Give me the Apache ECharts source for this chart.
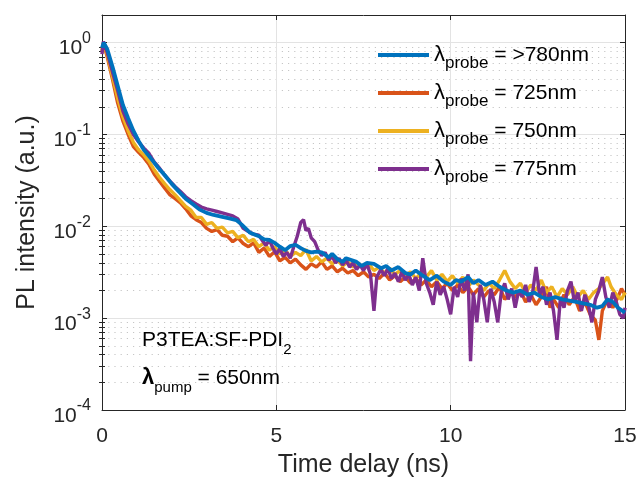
<!DOCTYPE html>
<html>
<head>
<meta charset="utf-8">
<script src="https://cdn.jsdelivr.net/npm/echarts@6/dist/echarts.min.js"></script>
<style>
html,body{margin:0;padding:0;background:#fff;}
#chart{width:642px;height:482px;}
</style>
</head>
<body>
<div id="chart"></div>
<script>
// ---- data ----
const seriesLabels = ['>780nm', '725nm', '750nm', '775nm'];
const seriesColors = ['#0072BD', '#D95319', '#EDB120', '#7E2F8E'];

const xTicks = [0, 5, 10, 15];
const yTicks = [1e-4, 1e-3, 1e-2, 1e-1, 1];
const yMinorTicks = [2e-4,3e-4,4e-4,5e-4,6e-4,7e-4,8e-4,9e-4,
  2e-3,3e-3,4e-3,5e-3,6e-3,7e-3,8e-3,9e-3,
  2e-2,3e-2,4e-2,5e-2,6e-2,7e-2,8e-2,9e-2,
  0.2,0.3,0.4,0.5,0.6,0.7,0.8,0.9];

// >780nm (blue)
const t780 = [0,0.05,0.15,0.3,0.45,0.6,0.75,0.9,1.05,1.2,1.4,1.6,1.8,2.0,2.2,2.4,2.6,2.8,3.0,3.2,3.45,3.65,3.85,4.0,4.25,4.5,4.65,4.8,4.95,5.1,5.25,5.4,5.55,5.7,5.85,6.0,6.15,6.3,6.5,6.6,6.75,6.9,7.0,7.15,7.3,7.45,7.6,7.8,8.0,8.15,8.3,8.5,8.7,8.85,9.0,9.2,9.4,9.6,9.8,10.0,10.15,10.3,10.5,10.65,10.8,11.0,11.2,11.4,11.6,11.8,12.0,12.2,12.4,12.6,12.8,13.0,13.2,13.4,13.6,13.8,14.0,14.2,14.35,14.5,14.65,14.8,15.0];
const i780 = [0.88,1.0,0.85,0.55,0.34,0.21,0.15,0.11,0.085,0.068,0.055,0.044,0.036,0.029,0.024,0.020,0.0175,0.0152,0.0140,0.0133,0.0127,0.0122,0.0117,0.0105,0.0085,0.0078,0.0072,0.0071,0.0066,0.0060,0.0055,0.0061,0.0063,0.0058,0.0054,0.0052,0.0053,0.0052,0.0046,0.0050,0.0044,0.0041,0.0045,0.0043,0.0041,0.0037,0.0040,0.0039,0.0035,0.0037,0.0033,0.0036,0.0031,0.0030,0.0033,0.0029,0.0026,0.0029,0.0025,0.0023,0.0026,0.0025,0.0028,0.0024,0.0026,0.0023,0.0025,0.0022,0.0020,0.0019,0.0020,0.0018,0.0019,0.0017,0.0016,0.0017,0.0016,0.00155,0.0015,0.00145,0.0014,0.0013,0.00135,0.0016,0.0015,0.0013,0.00115];

// 725nm (orange)
const t725 = [0,0.04,0.15,0.3,0.45,0.6,0.75,0.9,1.05,1.2,1.35,1.5,1.65,1.8,1.95,2.1,2.25,2.4,2.55,2.7,2.85,3.0,3.15,3.3,3.45,3.6,3.75,3.9,4.05,4.2,4.35,4.5,4.65,4.8,4.95,5.1,5.25,5.4,5.55,5.7,5.85,6.0,6.15,6.3,6.45,6.6,6.75,6.9,7.05,7.2,7.35,7.5,7.65,7.8,7.95,8.1,8.25,8.4,8.55,8.7,8.85,9.0,9.15,9.3,9.45,9.6,9.75,9.9,10.05,10.2,10.35,10.5,10.65,10.8,10.95,11.1,11.25,11.4,11.55,11.7,11.85,12.0,12.15,12.3,12.45,12.6,12.75,12.85,12.95,13.1,13.25,13.4,13.55,13.7,13.85,14.0,14.15,14.25,14.35,14.5,14.65,14.8,14.9,15.0];
const i725 = [0.8,0.98,0.70,0.40,0.22,0.14,0.10,0.074,0.064,0.056,0.047,0.037,0.031,0.026,0.022,0.020,0.018,0.0155,0.0130,0.0118,0.0110,0.0095,0.0088,0.0092,0.0080,0.0078,0.0068,0.0075,0.0065,0.0060,0.0066,0.0052,0.0058,0.0047,0.0053,0.0042,0.0046,0.0040,0.0044,0.0038,0.0034,0.0039,0.0036,0.0041,0.0034,0.0037,0.0032,0.0035,0.0031,0.0033,0.0029,0.0032,0.0028,0.0030,0.0027,0.0031,0.0026,0.0029,0.0025,0.0028,0.0024,0.0027,0.0023,0.0026,0.0022,0.0025,0.0021,0.0024,0.0020,0.0023,0.0019,0.0022,0.0018,0.0021,0.0017,0.0020,0.0018,0.0022,0.0016,0.0019,0.0017,0.0020,0.0015,0.0018,0.0014,0.0017,0.0022,0.0013,0.0016,0.0013,0.0018,0.0014,0.0017,0.0012,0.0015,0.0011,0.00095,0.00058,0.0012,0.0016,0.0013,0.0017,0.0021,0.0018];

// 750nm (yellow)
const t750 = [0,0.04,0.15,0.3,0.45,0.6,0.75,0.9,1.05,1.2,1.35,1.5,1.65,1.8,1.95,2.1,2.25,2.4,2.55,2.7,2.85,3.0,3.15,3.3,3.45,3.6,3.75,3.9,4.05,4.2,4.35,4.5,4.65,4.8,4.95,5.1,5.25,5.4,5.55,5.7,5.85,6.0,6.15,6.3,6.45,6.6,6.75,6.9,7.05,7.2,7.35,7.5,7.65,7.8,7.95,8.1,8.25,8.4,8.55,8.7,8.85,9.0,9.15,9.3,9.45,9.6,9.75,9.9,10.05,10.2,10.35,10.5,10.65,10.8,10.95,11.1,11.25,11.4,11.55,11.7,11.85,12.0,12.15,12.3,12.45,12.6,12.75,12.9,13.05,13.2,13.35,13.5,13.65,13.8,13.95,14.1,14.25,14.4,14.5,14.6,14.75,14.9,15.0];
const i750 = [0.82,1.0,0.74,0.43,0.25,0.155,0.11,0.082,0.068,0.060,0.051,0.041,0.034,0.029,0.025,0.022,0.019,0.0165,0.0150,0.0125,0.0125,0.0105,0.0110,0.0095,0.0098,0.0085,0.0088,0.0075,0.0080,0.0068,0.0072,0.0060,0.0066,0.0055,0.0060,0.0050,0.0055,0.0047,0.0052,0.0048,0.0056,0.0042,0.0047,0.0041,0.0045,0.0039,0.0043,0.0037,0.0041,0.0036,0.0040,0.0035,0.0039,0.0033,0.0036,0.0031,0.0035,0.0030,0.0033,0.0029,0.0032,0.0027,0.0031,0.0028,0.0033,0.0026,0.0030,0.0025,0.0029,0.0024,0.0028,0.0022,0.0026,0.0023,0.0020,0.0024,0.0021,0.0026,0.0033,0.0025,0.0021,0.0024,0.0019,0.0023,0.0020,0.0026,0.0019,0.0022,0.0017,0.0021,0.0018,0.0022,0.0017,0.0020,0.0016,0.0019,0.0021,0.0025,0.0028,0.0022,0.0018,0.0016,0.0019];

// 775nm (purple)
const t775 = [0,0.04,0.15,0.3,0.45,0.6,0.75,0.9,1.05,1.2,1.35,1.5,1.65,1.8,1.95,2.1,2.25,2.4,2.55,2.7,2.85,3.0,3.15,3.3,3.45,3.6,3.75,3.9,4.05,4.2,4.35,4.5,4.6,4.7,4.8,4.9,5.0,5.1,5.2,5.3,5.4,5.5,5.6,5.7,5.78,5.85,5.92,6.0,6.1,6.2,6.3,6.4,6.5,6.6,6.7,6.8,6.9,7.0,7.1,7.2,7.3,7.4,7.5,7.6,7.7,7.8,7.88,8.0,8.1,8.2,8.3,8.4,8.5,8.6,8.7,8.8,8.9,9.0,9.1,9.2,9.3,9.4,9.5,9.6,9.7,9.8,9.9,10.0,10.1,10.2,10.3,10.4,10.5,10.57,10.65,10.75,10.85,10.95,11.05,11.15,11.25,11.35,11.45,11.55,11.65,11.75,11.85,11.95,12.05,12.15,12.25,12.35,12.45,12.55,12.65,12.75,12.85,12.95,13.05,13.15,13.25,13.35,13.45,13.55,13.65,13.75,13.85,13.95,14.05,14.15,14.25,14.35,14.45,14.55,14.65,14.75,14.85,14.95,15.0];
const i775 = [0.75,1.03,0.78,0.48,0.30,0.18,0.13,0.10,0.083,0.071,0.062,0.050,0.043,0.036,0.031,0.027,0.024,0.021,0.019,0.0175,0.0162,0.0155,0.0150,0.0145,0.0140,0.0135,0.0130,0.0120,0.0095,0.0088,0.0082,0.0080,0.0070,0.0062,0.0071,0.0058,0.0050,0.0057,0.0047,0.0052,0.0045,0.0060,0.0078,0.0110,0.0118,0.0090,0.0095,0.0075,0.0068,0.0055,0.0048,0.0052,0.0043,0.0047,0.0040,0.0045,0.0038,0.0043,0.0036,0.0040,0.0034,0.0038,0.0033,0.0039,0.0030,0.0012,0.0028,0.0034,0.0029,0.0035,0.0027,0.0031,0.0025,0.0032,0.0026,0.0030,0.0023,0.0028,0.0020,0.0045,0.0024,0.0019,0.0014,0.0025,0.0018,0.0022,0.0016,0.0011,0.0022,0.0017,0.0027,0.0020,0.0030,0.00034,0.0019,0.0009,0.0023,0.0016,0.0009,0.0021,0.0015,0.0009,0.0019,0.0024,0.0016,0.0021,0.0013,0.0020,0.0017,0.0023,0.0015,0.0019,0.0036,0.0018,0.0022,0.0014,0.0019,0.0012,0.00058,0.0017,0.0013,0.0020,0.0025,0.0015,0.0019,0.0012,0.0018,0.0014,0.0009,0.0016,0.0020,0.0028,0.0017,0.0013,0.0019,0.0015,0.0011,0.0010,0.0013];

const xMin = 0, xMax = 15, yMin = 1e-4, yMax = 2;

// ---- chart ----
const FONT = 'Liberation Sans, Arial, Helvetica, sans-serif';
const AX = '#262626';
const chart = echarts.init(document.getElementById('chart'), null, {renderer: 'canvas'});

function pairs(t, v) { return t.map((x, k) => [x, v[k]]); }
const dataSets = [pairs(t780, i780), pairs(t725, i725), pairs(t750, i750), pairs(t775, i775)];
const drawOrder = [1, 2, 3, 0]; // orange, yellow, purple, then blue on top

const series = drawOrder.map((k, n) => ({
  name: seriesLabels[k],
  type: 'line',
  data: dataSets[k],
  xAxisIndex: 0,
  yAxisIndex: 0,
  showSymbol: false,
  symbol: 'none',
  smooth: false,
  animation: false,
  silent: true,
  z: 3 + n,
  lineStyle: {color: seriesColors[k], width: k === 0 ? 3.8 : 3.4},
  itemStyle: {color: seriesColors[k]}
}));

function yLabel(v) {
  const lg = Math.log10(v);
  const e = Math.round(lg);
  if (Math.abs(lg - e) > 1e-6) return '';
  return '{b|10}{s|' + e + '}';
}

const option = {
  animation: false,
  backgroundColor: '#fff',
  grid: {left: 102, right: 17, top: 15, bottom: 72, containLabel: false, outerBoundsMode: 'none'},
  xAxis: [
    {
      type: 'value', position: 'bottom', min: xMin, max: xMax, interval: 5,
      name: 'Time delay (ns)', nameLocation: 'middle', nameGap: 43,
      nameTextStyle: {fontFamily: FONT, fontSize: 25, color: AX},
      axisLine: {show: true, onZero: false, lineStyle: {color: AX, width: 1}},
      axisTick: {show: true, inside: true, length: 5, lineStyle: {color: AX}},
      axisLabel: {show: true, margin: 16, fontFamily: FONT, fontSize: 21, color: AX,
        customValues: xTicks},
      splitLine: {show: true, lineStyle: {color: '#e3e3e3', width: 1}}
    },
    {
      type: 'value', position: 'top', min: xMin, max: xMax, interval: 5,
      axisLine: {show: true, onZero: false, lineStyle: {color: AX, width: 1}},
      axisTick: {show: true, inside: true, length: 5, lineStyle: {color: AX}},
      axisLabel: {show: false},
      splitLine: {show: false}
    }
  ],
  yAxis: [
    {
      type: 'log', logBase: 10, position: 'left', min: yMin, max: yMax,
      name: 'PL intensity (a.u.)', nameLocation: 'middle', nameGap: 62,
      nameTextStyle: {fontFamily: FONT, fontSize: 25, color: AX},
      axisLine: {show: true, onZero: false, lineStyle: {color: AX, width: 1}},
      axisTick: {show: true, inside: true, length: 5, lineStyle: {color: AX}, customValues: yTicks},
      axisLabel: {
        show: true, margin: 11, customValues: yTicks, formatter: yLabel,
        padding: [12, 0, 0, 0],
        rich: {
          b: {fontFamily: FONT, fontSize: 21, color: AX, lineHeight: 36},
          s: {fontFamily: FONT, fontSize: 16, color: AX, lineHeight: 16, verticalAlign: 'top'}
        }
      },
      splitLine: {show: true, lineStyle: {color: '#e3e3e3', width: 1}}
    },
    {
      type: 'log', logBase: 10, position: 'left', min: yMin, max: yMax,
      axisLine: {show: false},
      axisTick: {show: true, inside: true, length: 3, lineStyle: {color: AX}, customValues: yMinorTicks},
      axisLabel: {show: false},
      splitLine: {show: true, lineStyle: {color: '#c6c6c6', width: 1, type: [1.2, 5]}}
    },
    {
      type: 'log', logBase: 10, position: 'right', min: yMin, max: yMax,
      axisLine: {show: true, onZero: false, lineStyle: {color: AX, width: 1}},
      axisTick: {show: true, inside: true, length: 5, lineStyle: {color: AX}, customValues: yTicks},
      axisLabel: {show: false},
      splitLine: {show: false}
    },
    {
      type: 'log', logBase: 10, position: 'right', min: yMin, max: yMax,
      axisLine: {show: false},
      axisTick: {show: true, inside: true, length: 3, lineStyle: {color: AX}, customValues: yMinorTicks},
      axisLabel: {show: false},
      splitLine: {show: false}
    }
  ],
  legend: {
    show: true,
    orient: 'vertical',
    left: 378,
    top: 44,
    padding: 0,
    itemGap: 10,
    itemWidth: 51,
    itemHeight: 4,
    icon: 'rect',
    selectedMode: false,
    data: seriesLabels.map((s, k) => ({name: s, itemStyle: {color: seriesColors[k]}})),
    formatter: function (name) { return '{l|λ}{p|probe}{t| = ' + name + '}'; },
    textStyle: {
      fontFamily: FONT, fontSize: 21, color: '#000',
      rich: {
        l: {fontFamily: FONT, fontSize: 22, color: '#000', lineHeight: 34},
        p: {fontFamily: FONT, fontSize: 17, color: '#000', lineHeight: 16, verticalAlign: 'bottom'},
        t: {fontFamily: FONT, fontSize: 21, color: '#000', lineHeight: 34}
      }
    }
  },
  graphic: [
    {
      type: 'text', left: 142, top: 330, silent: true, z: 100,
      style: {
        text: '{a|P3TEA:SF-PDI}{s|2}',
        rich: {
          a: {fontFamily: FONT, fontSize: 21, fill: '#000', lineHeight: 34},
          s: {fontFamily: FONT, fontSize: 15, fill: '#000', lineHeight: 15, verticalAlign: 'bottom'}
        }
      }
    },
    {
      type: 'text', left: 142, top: 367, silent: true, z: 100,
      style: {
        text: '{l|λ}{p|pump}{a| = 650nm}',
        rich: {
          l: {fontFamily: FONT, fontSize: 22, fontWeight: 'bold', fill: '#000', lineHeight: 34},
          p: {fontFamily: FONT, fontSize: 15, fill: '#000', lineHeight: 15, verticalAlign: 'bottom'},
          a: {fontFamily: FONT, fontSize: 21, fill: '#000', lineHeight: 34}
        }
      }
    }
  ],
  series: series
};
chart.setOption(option);
</script>
</body>
</html>
